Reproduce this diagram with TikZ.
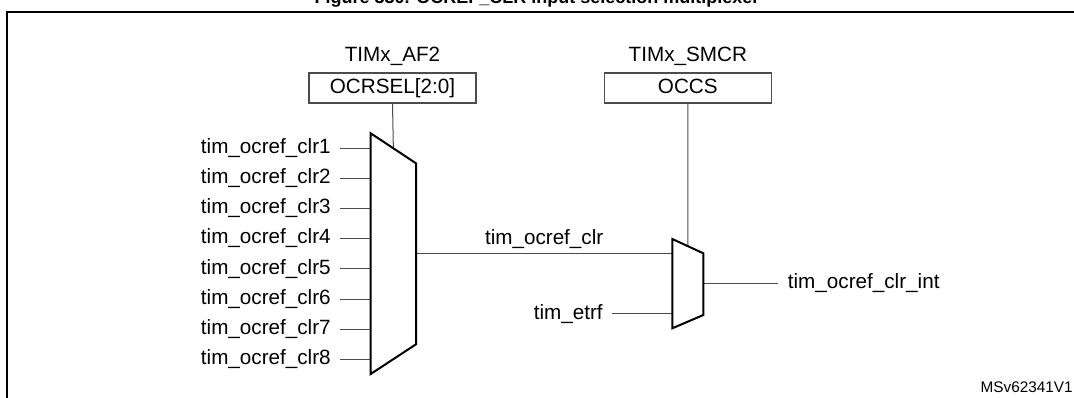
\documentclass[tikz,border=0pt]{standalone}
\usepackage{fontspec}
\setmainfont{Liberation Sans}
\usetikzlibrary{calc,positioning}
\definecolor{wiregray}{gray}{0.3}

\tikzset{
  sig/.style={font=\fontsize{15.5}{18}\selectfont, inner sep=0pt, inner xsep=7pt, text height=11.6pt, text depth=3.9pt},
  wire/.style={draw=wiregray, line width=0.75pt},
  muxbody/.style={draw=black, line width=1.5pt, line join=miter},
  regbox/.style={draw=wiregray, line width=0.9pt, minimum width=125.25pt, minimum height=22.5pt, inner sep=0pt,
    font=\fontsize{15.5}{18}\selectfont, text height=11.6pt, text depth=3.9pt},
}

\begin{document}
\begin{tikzpicture}[x=0.75pt, y=-0.75pt]
    \useasboundingbox (0,0) rectangle (1074,398);
    \clip (0,0) rectangle (1074,398);

    % caption and frame
    \node[font=\fontsize{13.5}{16}\selectfont\bfseries, anchor=base, inner sep=0pt] (title) at (537,4) {Figure 330. OCREF\_CLR input selection multiplexer};
    \draw[line width=1.5pt] (7,420) -- (7,12) -- (1100,12);

    % registers
    \node[sig, anchor=base] (af2) at (392.5,62) {TIMx\_AF2};
    \node[regbox] (ocrsel) at (392.5,88) {OCRSEL[2:0]};
    \node[sig, anchor=base] (smcr) at (687.8,62) {TIMx\_SMCR};
    \node[regbox] (occs) at (687.8,88) {OCCS};

    % mux 1: eight inputs
    \coordinate (m1tl) at (370.7,133.3);
    \coordinate (m1tr) at (416,163.3);
    \coordinate (m1br) at (416,344.3);
    \coordinate (m1bl) at (370.7,374);
    \foreach \i in {1,...,8} {
        \pgfmathsetmacro{\yy}{148.3+(\i-1)*30.15}
        \node[sig, anchor=east] (clr\i) at (340.3,\yy) {tim\_ocref\_clr\i};
        \coordinate (m1in\i) at (370.7,\yy);
        \draw[wire] (clr\i.east) -- (m1in\i);
    }
    \coordinate (m1out) at (416,253.3);

    % mux 2
    \coordinate (m2tl) at (672.3,239);
    \coordinate (m2tr) at (703.3,253.3);
    \coordinate (m2br) at (703.3,315);
    \coordinate (m2bl) at (672.3,328.3);
    \coordinate (m2in1) at (672.3,253.3);
    \coordinate (m2in2) at (672.3,314);
    \coordinate (m2out) at (703.3,283.3);

    \node[sig, anchor=east] (etrf) at (612.3,314) {tim\_etrf};
    \node[sig, anchor=west] (clrint) at (778.3,283.3) {tim\_ocref\_clr\_int};

    % wires
    \draw[wire] (ocrsel.south) -- ($(m1tl)!0.5!(m1tr)$);
    \draw[wire] (occs.south) -- ($(m2tl)!0.5!(m2tr)$);
    \draw[wire] (m1out) -- node[sig, above=2.3pt] (midlbl) {tim\_ocref\_clr} (m2in1);
    \draw[wire] (etrf.east) -- (m2in2);
    \draw[wire] (m2out) -- (clrint.west);

    \draw[muxbody, fill=white] (m1tl) -- (m1tr) -- (m1br) -- (m1bl) -- cycle;
    \draw[muxbody, fill=white] (m2tl) -- (m2tr) -- (m2br) -- (m2bl) -- cycle;

    \node[font=\fontsize{11.5}{13}\selectfont, anchor=base east, inner sep=0pt] (docid) at (1073,393) {MSv62341V1};
\end{tikzpicture}
\end{document}
